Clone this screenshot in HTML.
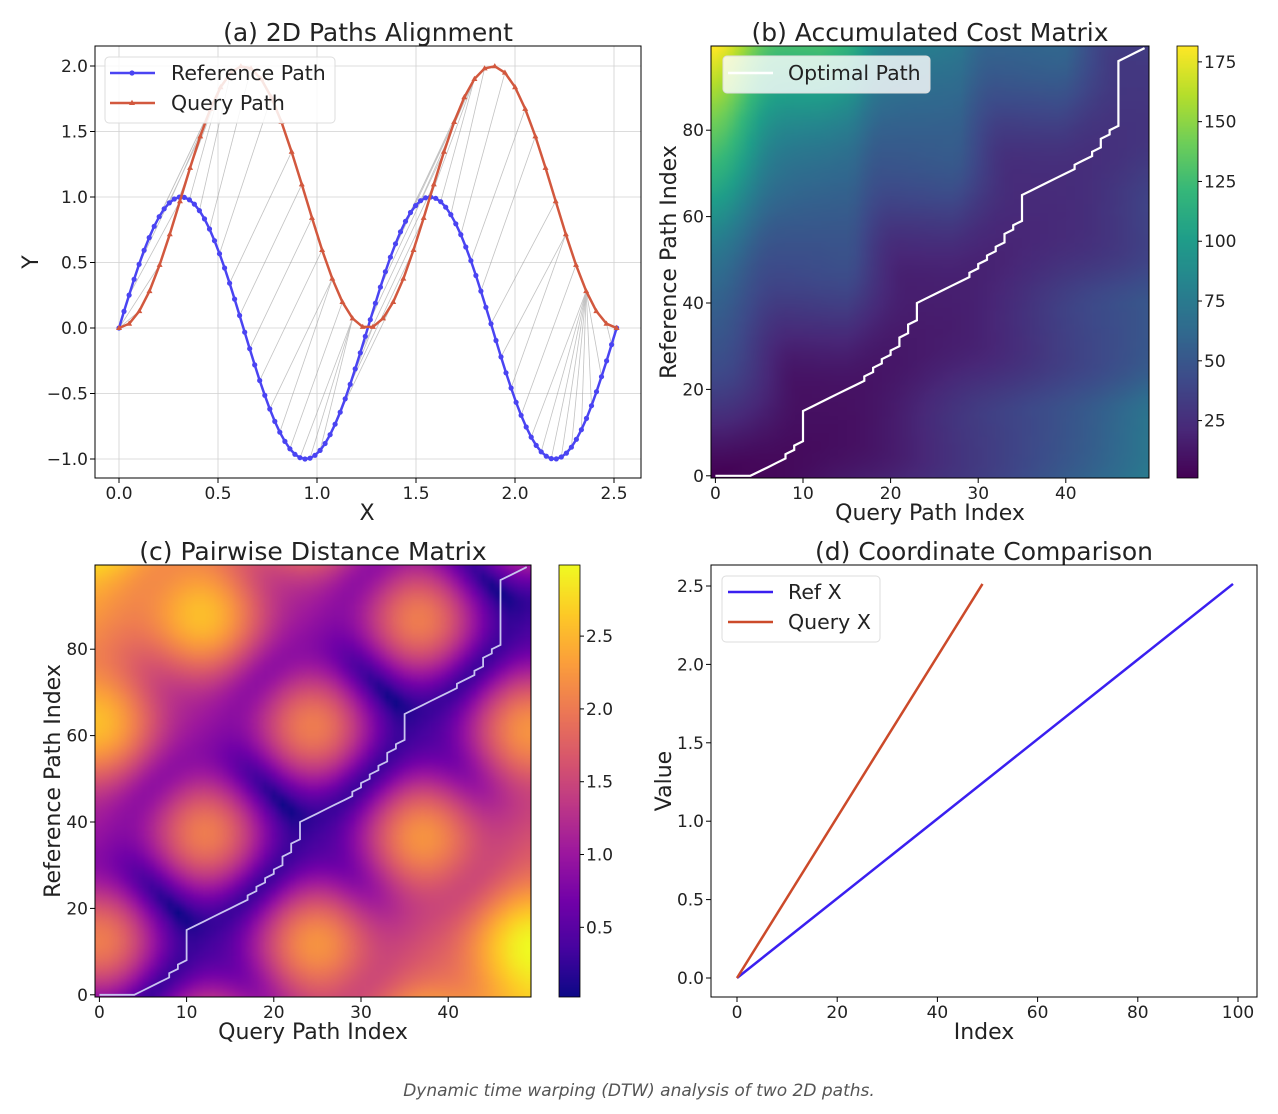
<!DOCTYPE html>
<html><head><meta charset="utf-8">
<style>
html,body{margin:0;padding:0;background:#fff;width:1278px;height:1114px;overflow:hidden;font-family:"DejaVu Sans","Liberation Sans",sans-serif}
canvas{position:absolute;}
#svg{position:absolute;left:0;top:0}
</style></head><body>
<canvas id="cb" width="50" height="100" style="left:711px;top:46px;width:438px;height:432px"></canvas>
<canvas id="cc" width="50" height="100" style="left:95px;top:565px;width:436px;height:432px"></canvas>
<canvas id="vb" width="1" height="256" style="left:1177px;top:46px;width:21px;height:432px;image-rendering:pixelated"></canvas>
<canvas id="vc" width="1" height="256" style="left:559px;top:565px;width:21px;height:432px;image-rendering:pixelated"></canvas>
<svg id="svg" width="1278" height="1114" xmlns="http://www.w3.org/2000/svg" font-family="DejaVu Sans, Liberation Sans, sans-serif"></svg>
<script>
const N=100,M=50,L=0.8*Math.PI;
const rx=[],ry=[],qx=[],qy=[];
for(let i=0;i<N;i++){rx.push(L*i/(N-1));ry.push(Math.sin(5*rx[i]));}
for(let j=0;j<M;j++){qx.push(L*j/(M-1));qy.push(1-Math.cos(5*qx[j]));}
const D=[],A=[];
let dmin=1e9,dmax=-1e9;
for(let i=0;i<N;i++){D.push([]);A.push([]);for(let j=0;j<M;j++){const d=Math.hypot(rx[i]-qx[j],ry[i]-(qy[j]-1));D[i].push(d);dmin=Math.min(dmin,d);dmax=Math.max(dmax,d);}}
for(let i=0;i<N;i++)for(let j=0;j<M;j++){let m;if(i==0&&j==0)m=0;else{m=1e9;if(i>0)m=Math.min(m,A[i-1][j]);if(j>0)m=Math.min(m,A[i][j-1]);if(i>0&&j>0)m=Math.min(m,A[i-1][j-1]);}A[i][j]=D[i][j]+m;}
let amin=1e9,amax=-1e9;for(let i=0;i<N;i++)for(let j=0;j<M;j++){amin=Math.min(amin,A[i][j]);amax=Math.max(amax,A[i][j]);}
let path=[[N-1,M-1]],i=N-1,j=M-1;
while(i>0||j>0){if(i==0)j--;else if(j==0)i--;else{const a=A[i-1][j-1],b=A[i-1][j],c=A[i][j-1];if(a<=b&&a<=c){i--;j--;}else if(b<=c)i--;else j--;}path.push([i,j]);}
path.reverse();
function cmap(stops,t){t=Math.max(0,Math.min(1,t));const n=stops.length-1;const k=Math.min(n-1,Math.floor(t*n));const f=t*n-k;const a=stops[k],b=stops[k+1];return [0,1,2].map(c=>Math.round(a[c]+(b[c]-a[c])*f));}
const h=s=>[parseInt(s.substr(1,2),16),parseInt(s.substr(3,2),16),parseInt(s.substr(5,2),16)];
const vir=["#440154","#482878","#3e4989","#31688e","#26828e","#1f9e89","#35b779","#6ece58","#b5de2b","#fde725"].map(h);
const pla=["#0d0887","#46039f","#7201a8","#9c179e","#bd3786","#d8576b","#ed7953","#fb9f3a","#fdca26","#f0f921"].map(h);
function fill(id,fn,cm){const cv=document.getElementById(id),ctx=cv.getContext('2d'),im=ctx.createImageData(M,N);
for(let i=0;i<N;i++)for(let j=0;j<M;j++){const c=cmap(cm,fn(i,j));const p=((N-1-i)*M+j)*4;im.data[p]=c[0];im.data[p+1]=c[1];im.data[p+2]=c[2];im.data[p+3]=255;}ctx.putImageData(im,0,0);}
fill('cb',(i,j)=>(A[i][j]-amin)/(amax-amin),vir);
fill('cc',(i,j)=>(D[i][j]-dmin)/(dmax-dmin),pla);
function bar(id,cm){const cv=document.getElementById(id),ctx=cv.getContext('2d');for(let k=0;k<256;k++){const c=cmap(cm,1-k/255);ctx.fillStyle=`rgb(${c})`;ctx.fillRect(0,k,1,1);}}
bar('vb',vir);bar('vc',pla);
let s='';
const T=(x,y,t,o='')=>{s+=`<text x="${x}" y="${y}" ${o}>${t}</text>`;};
const TK=17, TT=25, LG=20.5;
// Panel a
const ax=x=>119+x*198, ay=y=>328-y*131;
s+='<g stroke="#d0d0d0" stroke-width="0.8">';
for(let v=0;v<=2.5001;v+=0.5)s+=`<line x1="${ax(v)}" y1="46" x2="${ax(v)}" y2="478"/>`;
for(let v=-1;v<=2.0001;v+=0.5)s+=`<line x1="95" y1="${ay(v)}" x2="641" y2="${ay(v)}"/>`;
s+='</g>';
s+='<g stroke="#999" stroke-width="0.8" opacity="0.6">';
path.forEach(([i,j],k)=>{if(k%2==0)s+=`<line x1="${ax(rx[i]).toFixed(1)}" y1="${ay(ry[i]).toFixed(1)}" x2="${ax(qx[j]).toFixed(1)}" y2="${ay(qy[j]).toFixed(1)}"/>`;});
s+='</g>';
s+=`<polyline fill="none" stroke="#4a44f2" stroke-width="2.5" points="${rx.map((x,i)=>ax(x).toFixed(1)+','+ay(ry[i]).toFixed(1)).join(' ')}"/>`;
rx.forEach((x,i)=>{s+=`<circle cx="${ax(x).toFixed(1)}" cy="${ay(ry[i]).toFixed(1)}" r="2.6" fill="#4a44f2"/>`;});
s+=`<polyline fill="none" stroke="#d2583e" stroke-width="2.5" points="${qx.map((x,i)=>ax(x).toFixed(1)+','+ay(qy[i]).toFixed(1)).join(' ')}"/>`;
qx.forEach((x,i)=>{const X=ax(x),Y=ay(qy[i]);s+=`<path d="M${X},${Y-3.2}L${X+3},${Y+2}L${X-3},${Y+2}Z" fill="#d2583e"/>`;});
s+='<rect x="95" y="46" width="546" height="432" fill="none" stroke="#000" stroke-width="1"/>';
s+=`<g font-size="${TK}" fill="#222">`;
for(let v=0;v<=2.5001;v+=0.5){s+=`<line x1="${ax(v)}" y1="478" x2="${ax(v)}" y2="483" stroke="#000"/>`;T(ax(v),499,v.toFixed(1),'text-anchor="middle"');}
for(let v=-1;v<=2.0001;v+=0.5){s+=`<line x1="90" y1="${ay(v)}" x2="95" y2="${ay(v)}" stroke="#000"/>`;T(88,ay(v)+6,(v<0?'−':'')+Math.abs(v).toFixed(1),'text-anchor="end"');}
s+='</g>';
s+='<rect x="105" y="57" width="230" height="66" rx="4" fill="#fff" fill-opacity="0.85" stroke="#ddd"/>';
s+='<line x1="110" y1="73" x2="155" y2="73" stroke="#4a44f2" stroke-width="2.5"/><circle cx="132" cy="73" r="2.6" fill="#4a44f2"/>';
s+='<line x1="110" y1="103" x2="155" y2="103" stroke="#d2583e" stroke-width="2.5"/><path d="M132,99.8L135,105L129,105Z" fill="#d2583e"/>';
s+=`<g font-size="${LG}" fill="#222">`;T(171,80,'Reference Path');T(171,110,'Query Path');s+='</g>';
s+=`<g font-size="22" fill="#222" text-anchor="middle">`;T(367,520,'X');T(0,0,'Y','transform="translate(38,262) rotate(-90)"');s+='</g>';
s+=`<g font-size="${TT}" fill="#222" text-anchor="middle">`;T(368,41,'(a) 2D Paths Alignment');T(930,41,'(b) Accumulated Cost Matrix');T(313,560,'(c) Pairwise Distance Matrix');T(984,560,'(d) Coordinate Comparison');s+='</g>';
// Panel b
const bx=j=>715.4+j*8.76, by=i=>475.8-i*4.32;
s+=`<polyline fill="none" stroke="#fff" stroke-width="2.2" points="${path.map(([i,j])=>bx(j).toFixed(1)+','+by(i).toFixed(1)).join(' ')}"/>`;
s+='<rect x="711" y="46" width="438" height="432" fill="none" stroke="#000"/>';
s+='<rect x="723" y="56" width="207" height="37" rx="4" fill="#fff" fill-opacity="0.8" stroke="#ddd"/><line x1="728" y1="73" x2="773" y2="73" stroke="#fff" stroke-width="2.5"/>';
s+=`<g font-size="${LG}" fill="#222">`;T(788,80,'Optimal Path');s+='</g>';
s+=`<g font-size="${TK}" fill="#222">`;
for(let v=0;v<=40;v+=10){s+=`<line x1="${bx(v)}" y1="478" x2="${bx(v)}" y2="483" stroke="#000"/>`;T(bx(v),499,v,'text-anchor="middle"');}
for(let v=0;v<=80;v+=20){s+=`<line x1="706" y1="${by(v)}" x2="711" y2="${by(v)}" stroke="#000"/>`;T(704,by(v)+6,v,'text-anchor="end"');}
s+='<rect x="1177" y="46" width="21" height="432" fill="none" stroke="#000" stroke-width="0.8"/>';
const cby=v=>478-(v-amin)/(amax-amin)*432;
for(let v=25;v<=175;v+=25){if(v>amax)break;s+=`<line x1="1198" y1="${cby(v)}" x2="1202" y2="${cby(v)}" stroke="#000"/>`;T(1204,cby(v)+6,v);}
s+='</g>';
s+='<g font-size="22" fill="#222" text-anchor="middle">';T(930,520,'Query Path Index');T(0,0,'Reference Path Index','transform="translate(676,262) rotate(-90)"');s+='</g>';
// Panel c
const cx=j=>99.4+j*8.72, cy=i=>994.8-i*4.32;
s+=`<polyline fill="none" stroke="#c8c4f0" stroke-width="1.8" points="${path.map(([i,j])=>cx(j).toFixed(1)+','+cy(i).toFixed(1)).join(' ')}"/>`;
s+='<rect x="95" y="565" width="436" height="432" fill="none" stroke="#000"/>';
s+=`<g font-size="${TK}" fill="#222">`;
for(let v=0;v<=40;v+=10){s+=`<line x1="${cx(v)}" y1="997" x2="${cx(v)}" y2="1002" stroke="#000"/>`;T(cx(v),1018,v,'text-anchor="middle"');}
for(let v=0;v<=80;v+=20){s+=`<line x1="90" y1="${cy(v)}" x2="95" y2="${cy(v)}" stroke="#000"/>`;T(88,cy(v)+6,v,'text-anchor="end"');}
s+='<rect x="559" y="565" width="21" height="432" fill="none" stroke="#000" stroke-width="0.8"/>';
const ccy=v=>997-(v-dmin)/(dmax-dmin)*432;
for(let v=0.5;v<=2.5001;v+=0.5){s+=`<line x1="580" y1="${ccy(v)}" x2="584" y2="${ccy(v)}" stroke="#000"/>`;T(586,ccy(v)+6,v.toFixed(1));}
s+='</g>';
s+='<g font-size="22" fill="#222" text-anchor="middle">';T(313,1039,'Query Path Index');T(0,0,'Reference Path Index','transform="translate(60,781) rotate(-90)"');s+='</g>';
// Panel d
const dx=v=>737+v*5.01, dy=v=>978-v*156.8;
s+=`<line x1="${dx(0)}" y1="${dy(0)}" x2="${dx(99)}" y2="${dy(L)}" stroke="#3a1ff0" stroke-width="2.5"/>`;
s+=`<line x1="${dx(0)}" y1="${dy(0)}" x2="${dx(49)}" y2="${dy(L)}" stroke="#cc4a2a" stroke-width="2.5"/>`;
s+='<rect x="711" y="565" width="546" height="432" fill="none" stroke="#000"/>';
s+=`<g font-size="${TK}" fill="#222">`;
for(let v=0;v<=100;v+=20){s+=`<line x1="${dx(v)}" y1="997" x2="${dx(v)}" y2="1002" stroke="#000"/>`;T(dx(v),1018,v,'text-anchor="middle"');}
for(let v=0;v<=2.5001;v+=0.5){s+=`<line x1="706" y1="${dy(v)}" x2="711" y2="${dy(v)}" stroke="#000"/>`;T(704,dy(v)+6,v.toFixed(1),'text-anchor="end"');}
s+='</g>';
s+='<rect x="722" y="576" width="158" height="66" rx="4" fill="#fff" stroke="#ddd"/>';
s+='<line x1="728" y1="592" x2="773" y2="592" stroke="#3a1ff0" stroke-width="2.5"/><line x1="728" y1="622" x2="773" y2="622" stroke="#cc4a2a" stroke-width="2.5"/>';
s+=`<g font-size="${LG}" fill="#222">`;T(788,599,'Ref X');T(788,629,'Query X');s+='</g>';
s+='<g font-size="22" fill="#222" text-anchor="middle">';T(984,1039,'Index');T(0,0,'Value','transform="translate(671,781) rotate(-90)"');s+='</g>';
s+='<text x="639" y="1096" font-size="17" font-style="italic" fill="#555" text-anchor="middle">Dynamic time warping (DTW) analysis of two 2D paths.</text>';
document.getElementById('svg').innerHTML=s;
</script>
</body></html>
